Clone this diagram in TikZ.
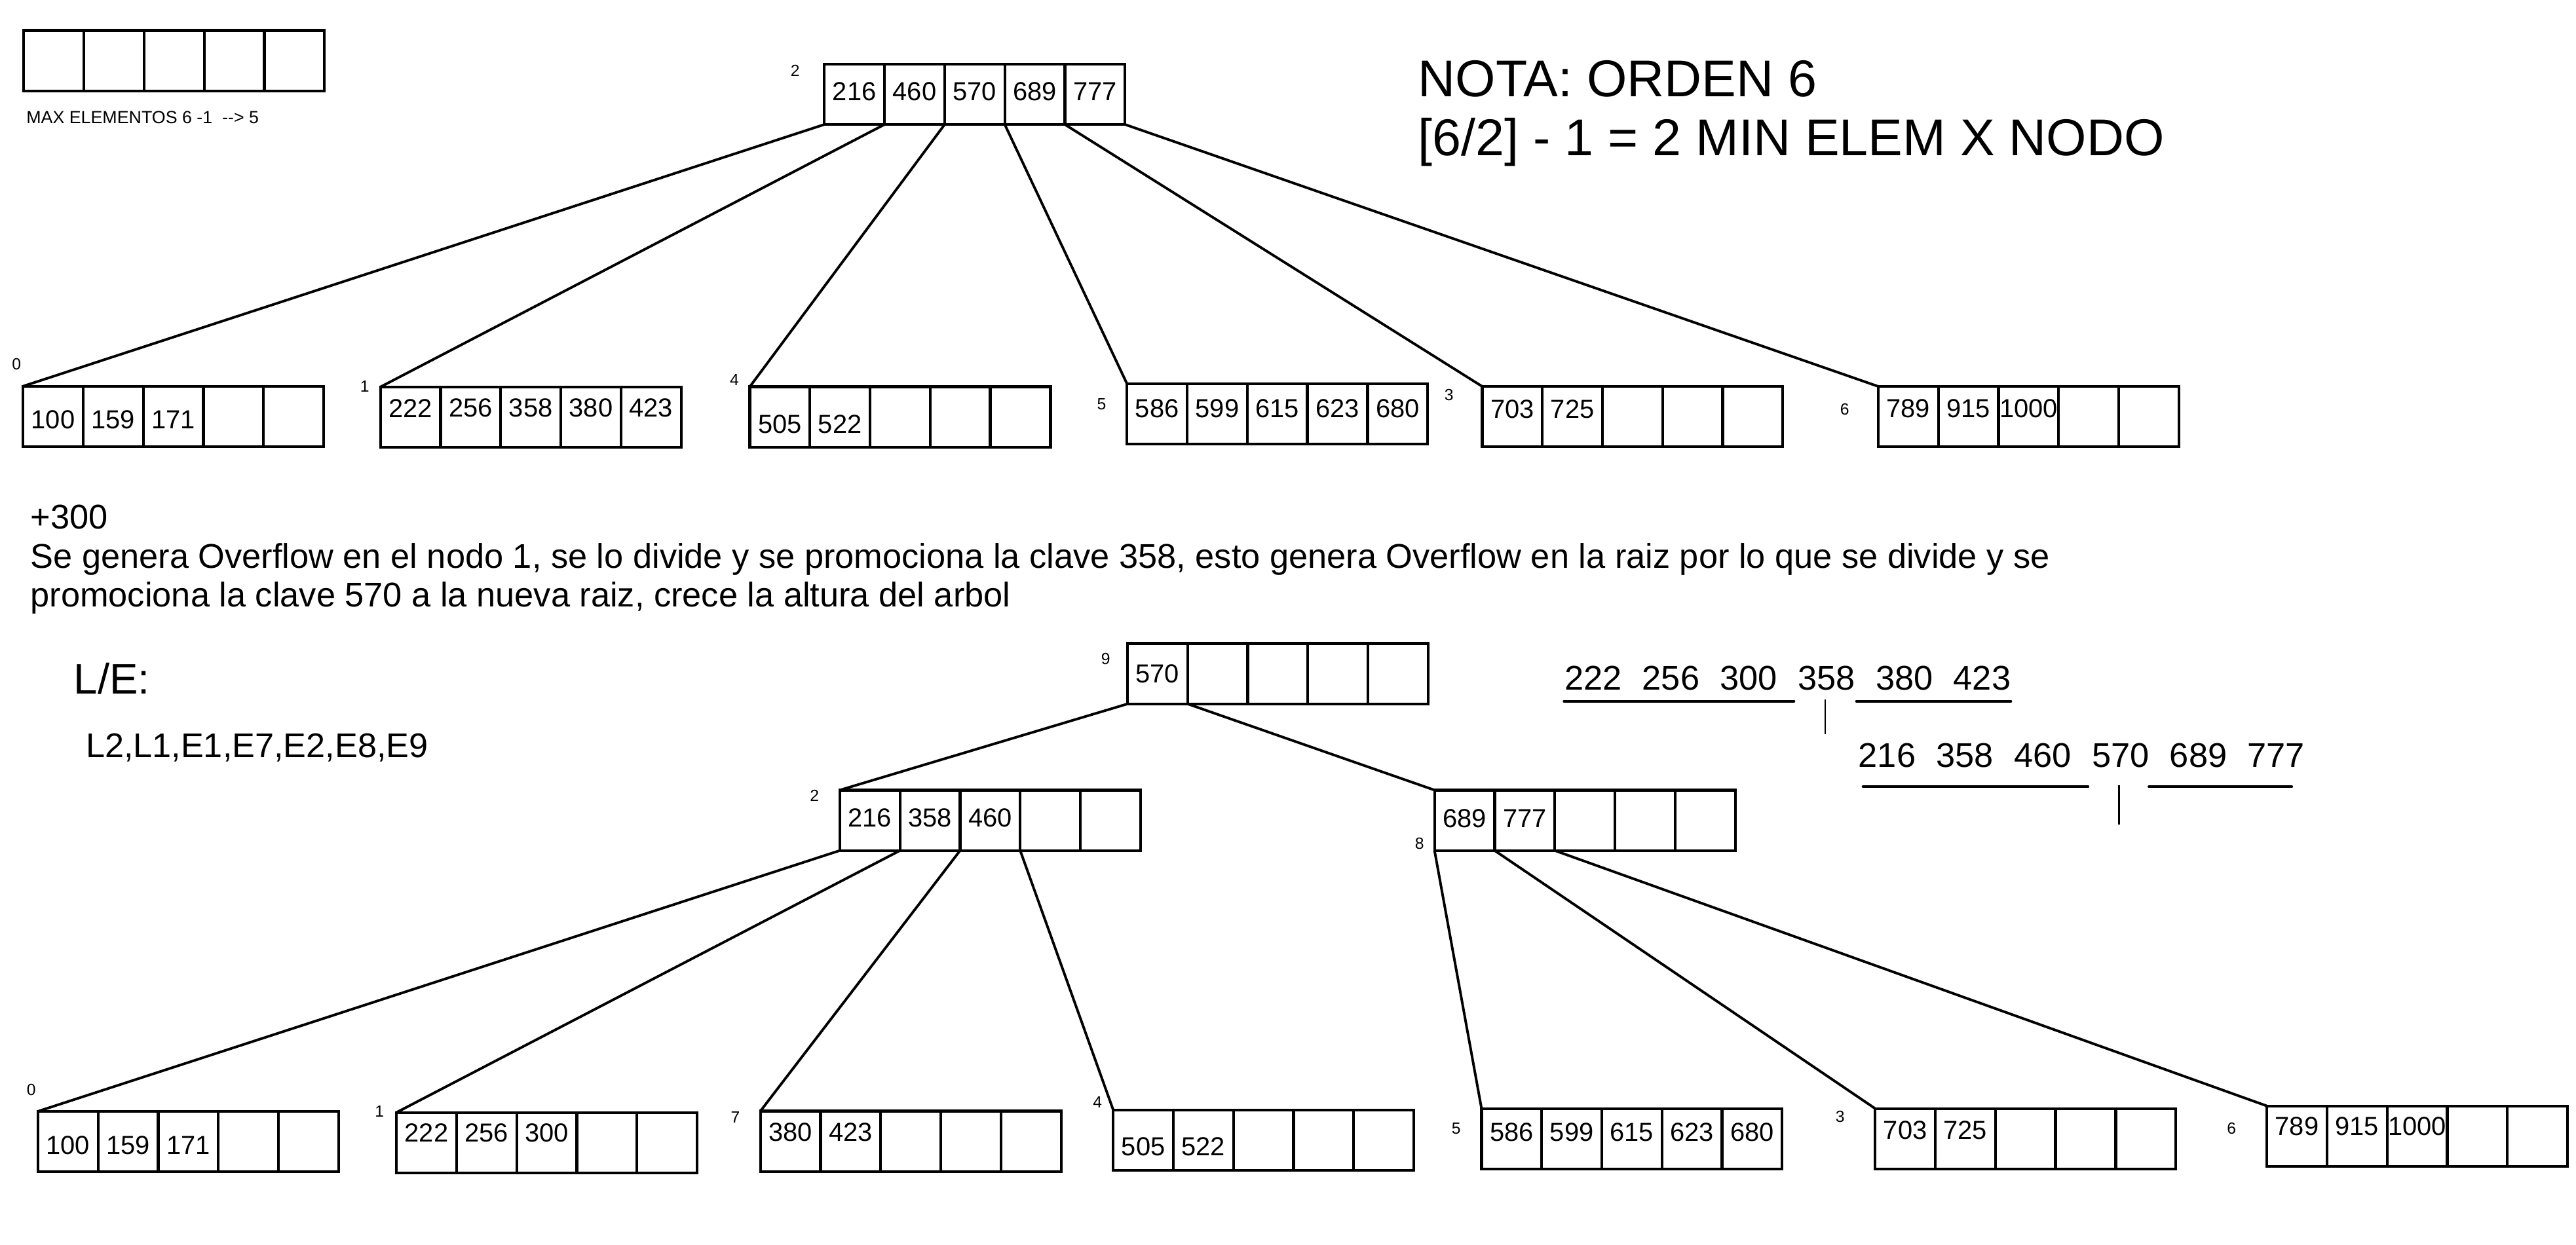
\documentclass[tikz,border=0pt]{standalone}
\usepackage{fontspec}
\setmainfont{Liberation Sans}
\tikzstyle{cell}=[draw,line width=1.2pt,rectangle,minimum width=0.915cm,minimum height=0.92cm,inner sep=0pt,outer sep=0pt]
\tikzstyle{key}=[inner sep=0pt,font=\fontsize{11.3}{13}\selectfont]
\tikzstyle{index}=[inner sep=0pt,anchor=base west,font=\fontsize{7}{8}\selectfont]
\tikzstyle{edge}=[draw,line width=1.1pt,-]
\tikzstyle{note}=[inner sep=0pt,anchor=base west]
\tikzstyle{body}=[note,font=\fontsize{14.85}{17}\selectfont]
\tikzstyle{underline}=[draw,line width=1.1pt,line cap=round]
\tikzstyle{split}=[draw,line width=0.8pt]
\newcommand{\numgap}{\hspace{0.6em}}

\begin{document}
\begin{tikzpicture}[x=0.025cm,y=-0.025cm]
\useasboundingbox (0,0) rectangle (1568,757.7);

% Empty page with the capacity
\foreach \i in {0,...,4}
\node[cell] (mx-\i) at ({14.5+\i*36.6+18.3},{18.6+18.4}) {};
\node[note,font=\fontsize{7.6}{9}\selectfont] (maxtxt) at (15.8,75) {MAX ELEMENTOS 6 -1\ \ -\kern0pt->\ 5};

% First we draw the pages of both trees
\foreach \name/\x/\y/\dy/\lab/\lx/\ly/\keys in {
ra/501.8/39/-1.5/2/481/46.6/{216,460,570,689,777},
a0/14/235.2/2/0/7/225/{100,159,171},
a1/231.6/235.6/-5.5/1/219/238.5/{222,256,358,380,423},
a4/456.4/235.5/4.5/4/444/234.5/{505,522},
a5/686/233.7/-3.5/5/667.5/249.6/{586,599,615,623,680},
a3/902.2/235.3/-4.5/3/879/243.9/{703,725},
a6/1143.3/235.3/-5/6/1119.8/252.8/{789,915,1000},
b9/686.3/391.8/0/9/670/404.7/{570},
b2/511.2/481.1/-1.5/2/492.8/488/{216,358,460},
b8/873.2/481.1/-1/8/861/517/{689,777},
b0/23.1/676.7/2.4/0/16/667/{100,159,171},
b1/241.3/677.4/-6/1/228/680.2/{222,256,300},
b7/462.9/676.5/-5.5/7/444.6/683.8/{380,423},
b4/677.6/675.8/4/4/665/674.5/{505,522},
b5/901.8/675/-4/5/883.4/690.5/{586,599,615,623,680},
b3/1141.4/675/-5/3/1117/683.4/{703,725},
b6/1379.8/673.4/-6/6/1355.3/690.6/{789,915,1000}}
{
\foreach \i in {0,...,4}
\node[cell] (\name-\i) at ({\x+\i*36.6+18.3},{\y+18.4}) {};
\node[index] (\name-lab) at (\lx,\ly) {\lab};
\foreach \k [count=\i from 0] in \keys
\node[key] (\name-k\i) at ({\x+\i*36.6+18.3},{\y+18.4+\dy}) {\k};
}

% Connect pages with edges
\foreach \source/\dest in {ra-0.south west/a0,ra-1.south west/a1,ra-2.south west/a4,
ra-3.south west/a5,ra-4.south west/a3,ra-4.south east/a6,
b9-0.south west/b2,b9-1.south west/b8,
b2-0.south west/b0,b2-1.south west/b1,b2-2.south west/b7,b2-3.south west/b4,
b8-0.south west/b5,b8-1.south west/b3,b8-2.south west/b6}
\path[edge] (\source) -- (\dest-0.north west);

% Notes
\node[note,font=\fontsize{22.4}{25}\selectfont] (nota1) at (863,59) {NOTA: ORDEN 6};
\node[note,font=\fontsize{22.4}{25}\selectfont] (nota2) at (863,94.6) {[6/2] - 1 = 2 MIN ELEM X NODO};
\node[body] (ins) at (18.3,322) {+300};
\node[body] (msg1) at (18.3,346) {Se genera Overflow en el nodo 1, se lo divide y se promociona la clave 358, esto genera Overflow en la raiz por lo que se divide y se};
\node[body] (msg2) at (18.3,369.5) {promociona la clave 570 a la nueva raiz, crece la altura del arbol};
\node[note,font=\fontsize{18.5}{21}\selectfont] (le) at (44.7,422.7) {L/E:};
\node[note,font=\fontsize{14.8}{17}\selectfont] (ops) at (52,461) {L2,L1,E1,E7,E2,E8,E9};

% The two splits
\node[body] (split1) at (952,420) {222\numgap 256\numgap 300\numgap 358\numgap 380\numgap 423};
\node[body] (split2) at (1131,467) {216\numgap 358\numgap 460\numgap 570\numgap 689\numgap 777};
\draw[underline] (952,427) -- (1092,427);
\draw[underline] (1130,427) -- (1224,427);
\draw[split] (1111,426) -- (1111,447);
\draw[underline] (1134,479) -- (1271,479);
\draw[underline] (1308,479) -- (1395,479);
\draw[split] (1290,478) -- (1290,502);

\end{tikzpicture}
\end{document}
